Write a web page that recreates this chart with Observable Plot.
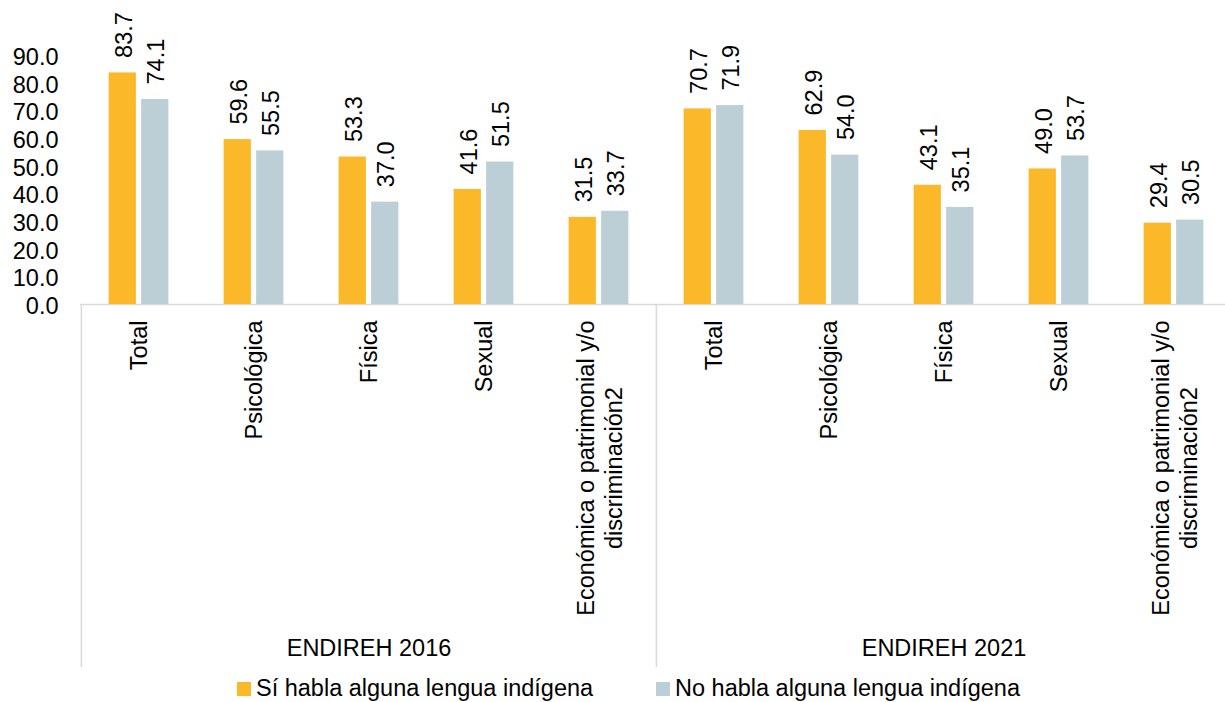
<!DOCTYPE html>
<html>
<head>
<meta charset="utf-8">
<script src="https://cdn.jsdelivr.net/npm/d3@7"></script>
<script src="https://cdn.jsdelivr.net/npm/@observablehq/plot@0.6"></script>
<style>
  html, body { margin: 0; padding: 0; background: #fff; }
  #chart svg { display: block; overflow: visible; }
  #legend { position: relative; height: 32px; width: 1225px; font-family: "Liberation Sans", Arial, sans-serif; font-size: 23.5px; color: #000; }
  .item { position: absolute; top: 2px; height: 32px; display: flex; align-items: center; white-space: nowrap; }
  .sw { width: 14px; height: 14px; margin-right: 5px; margin-top: 2px; }
</style>
</head>
<body>
<div id="chart"></div>
<div id="legend"></div>
<script>
// ---- Data ----
const years = ["ENDIREH 2016", "ENDIREH 2021"];
const categories = ["Total", "Psicológica", "Física", "Sexual", "Económica o patrimonial y/o\ndiscriminación2"];
const series = ["Sí habla alguna lengua indígena", "No habla alguna lengua indígena"];
const si2016 = [83.7, 59.6, 53.3, 41.6, 31.5];
const no2016 = [74.1, 55.5, 37.0, 51.5, 33.7];
const si2021 = [70.7, 62.9, 43.1, 49.0, 29.4];
const no2021 = [71.9, 54.0, 35.1, 53.7, 30.5];
const yTicks = [0, 10, 20, 30, 40, 50, 60, 70, 80, 90];
const colors = ["#FBB829", "#BDCFD6"];

// ---- Build table ----
const valuesBy = [[si2016, no2016], [si2021, no2021]];
const key = (y, c) => y + "|" + c;
const keys = years.flatMap(y => categories.map(c => key(y, c)));
const rows = [];
years.forEach((y, yi) => categories.forEach((c, ci) => series.forEach((s, si) => {
  rows.push({key: key(y, c), year: y, cat: c, series: s, si, value: valuesBy[yi][si][ci]});
})));
const catRows = years.flatMap(y => categories.map(c => ({key: key(y, c), cat: c})));

const FONT = '"Liberation Sans", Arial, sans-serif';
const FS = 23.5;
const ctx = document.createElement("canvas").getContext("2d");
ctx.font = FS + "px " + FONT;
const maxLineW = s => Math.max(...s.split("\n").map(l => ctx.measureText(l).width));

const width = 1225, height = 670;
const marginLeft = 80, marginRight = -7.5;
const bandW = (width - marginLeft - marginRight) / keys.length;
const barW = 27.5, barOff = 16.25;
const inset = (bandW - barW) / 2;
const labelTop = 16;

const multi = catRows.filter(d => d.cat.includes("\n"));
const single = catRows.filter(d => !d.cat.includes("\n"));
const multiDy = labelTop + (multi.length ? maxLineW(multi[0].cat) / 2 : 0);

const fmt = d3.format(".1f");

const chart = Plot.plot({
  width, height,
  marginLeft, marginRight, marginTop: 55, marginBottom: 3,
  style: {fontFamily: FONT, fontSize: FS + "px", color: "#000", background: "#fff", overflow: "visible"},
  x: {type: "band", domain: keys, padding: 0, axis: null},
  y: {domain: [0, 90], range: [304, 55], axis: null, label: null},
  color: {domain: series, range: colors},
  marks: [
    Plot.axisY({ticks: yTicks, tickFormat: fmt, tickSize: 0, tickPadding: 22, dy: 2, fontSize: FS, fill: "#000", label: null}),
    Plot.ruleX(years, {x: y => key(y, categories[0]), dx: -bandW / 2, insetTop: 249, stroke: "#D9D9D9", strokeWidth: 1.5}),
    Plot.ruleY([0], {stroke: "#D9D9D9", strokeWidth: 1.5}),
    ...[0, 1].map(si => Plot.barY(rows.filter(d => d.si === si), {
      x: "key", y: "value", fill: "series", dx: si === 0 ? -barOff : barOff, insetLeft: inset, insetRight: inset
    })),
    ...[0, 1].map(si => Plot.text(rows.filter(d => d.si === si), {
      x: "key", y: "value", text: d => fmt(d.value), rotate: -90, textAnchor: "start",
      dx: (si === 0 ? -barOff : barOff) + 1.5, dy: -15, fill: "#000", fontSize: FS
    })),
    Plot.text(single, {x: "key", y: () => 0, text: "cat", rotate: -90, textAnchor: "end", dy: labelTop, fill: "#000", fontSize: FS}),
    Plot.text(multi, {x: "key", y: () => 0, text: "cat", rotate: -90, textAnchor: "middle", lineAnchor: "middle", lineHeight: 1.2, dy: multiDy, fill: "#000", fontSize: FS}),
    Plot.text(years, {x: y => key(y, categories[2]), frameAnchor: "bottom", dy: -12, text: d => d, fill: "#000", fontSize: FS})
  ]
});
document.getElementById("chart").appendChild(chart);

// ---- Legend ----
const legend = document.getElementById("legend");
const legendLeft = [237, 656];
series.forEach((s, i) => {
  const item = document.createElement("div");
  item.className = "item";
  item.style.left = legendLeft[i] + "px";
  const sw = document.createElement("span");
  sw.className = "sw";
  sw.style.background = colors[i];
  const tx = document.createElement("span");
  tx.textContent = s;
  item.appendChild(sw);
  item.appendChild(tx);
  legend.appendChild(item);
});
</script>
</body>
</html>
